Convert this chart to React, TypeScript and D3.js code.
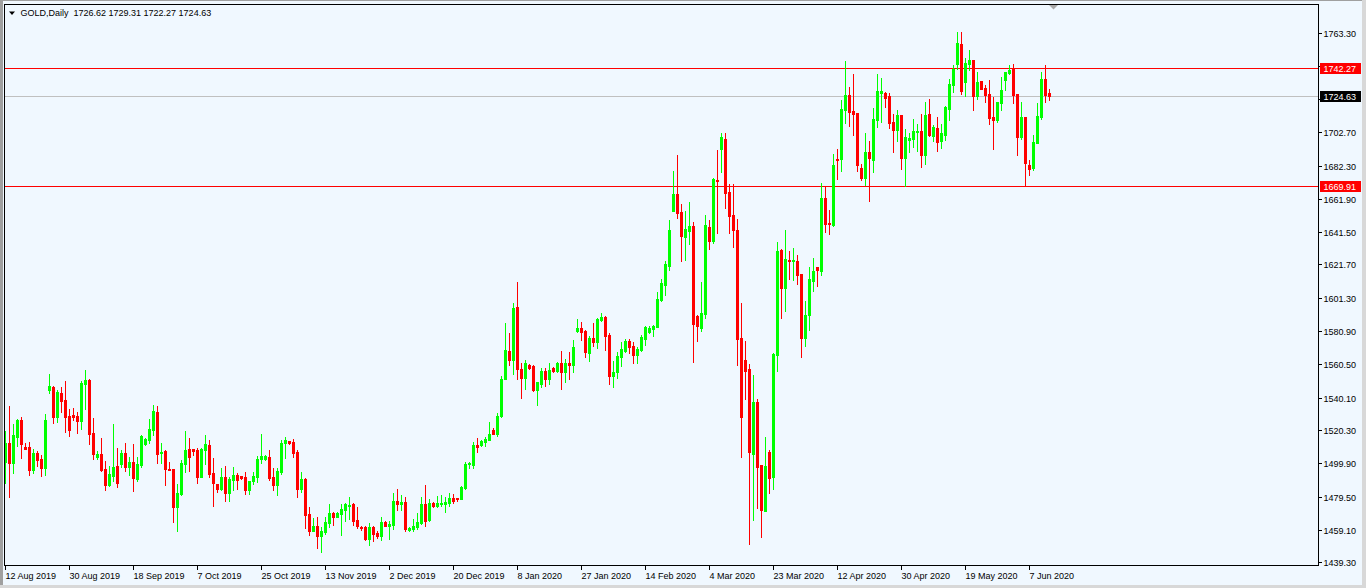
import React from "react";
import * as d3 from "d3";

const opens: number[] = [1500.9,1512.2,1500.3,1516.2,1526.5,1509.7,1509.7,1495.8,1506.0,1502.4,1497.1,1544.8,1546.5,1528.1,1542.8,1538.7,1528.9,1529.5,1528.9,1525.8,1548.5,1551.0,1518.3,1504.0,1505.6,1496.2,1486.6,1492.2,1498.3,1499.5,1506.0,1497.9,1500.7,1490.5,1498.7,1511.8,1514.2,1520.3,1531.4,1506.2,1507.7,1496.4,1496.2,1473.2,1481.1,1499.5,1508.5,1508.5,1508.1,1491.7,1508.1,1511.1,1493.8,1487.0,1484.0,1491.5,1481.9,1489.7,1492.8,1491.9,1491.5,1483.6,1488.9,1491.7,1502.4,1502.4,1503.6,1491.5,1486.8,1494.8,1512.2,1513.4,1513.0,1506.9,1484.4,1490.3,1468.9,1458.7,1461.5,1455.4,1457.9,1463.4,1469.5,1467.0,1468.9,1471.3,1473.8,1475.0,1465.2,1460.9,1460.9,1453.6,1460.9,1457.2,1455.4,1464.0,1461.5,1462.1,1476.8,1475.0,1476.2,1459.1,1459.7,1460.9,1463.4,1475.0,1465.2,1475.6,1473.8,1475.0,1475.0,1475.6,1478.7,1478.7,1478.1,1484.8,1499.5,1498.9,1511.1,1511.1,1513.0,1514.2,1520.3,1517.9,1528.9,1551.6,1568.7,1563.2,1595.7,1557.7,1552.2,1560.1,1559.5,1544.8,1548.5,1556.5,1551.6,1558.3,1556.5,1561.4,1555.9,1561.4,1560.1,1581.0,1582.8,1581.0,1567.5,1576.7,1574.2,1587.7,1589.5,1578.5,1553.4,1555.9,1565.0,1568.7,1574.8,1571.8,1566.3,1569.3,1576.1,1580.4,1582.2,1583.4,1600.0,1609.1,1620.8,1654.5,1664.9,1653.9,1638.5,1642.2,1645.3,1590.2,1582.8,1591.4,1644.7,1636.1,1673.5,1692.4,1698.6,1666.1,1652.0,1642.8,1576.7,1563.2,1557.7,1505.6,1537.5,1498.9,1470.7,1506.9,1491.5,1566.3,1630.6,1607.3,1624.5,1623.8,1623.8,1615.9,1576.7,1590.8,1611.6,1620.2,1617.7,1662.4,1647.1,1645.9,1686.3,1686.3,1716.3,1725.5,1715.7,1714.5,1680.8,1674.7,1690.6,1685.7,1710.2,1726.7,1726.7,1724.9,1709.0,1704.1,1713.3,1686.9,1698.0,1698.6,1702.9,1703.5,1688.8,1713.9,1700.4,1705.3,1697.3,1701.0,1716.9,1731.6,1744.5,1756.8,1733.5,1744.5,1747.0,1724.9,1734.1,1729.8,1726.1,1712.0,1710.2,1720.6,1734.7,1739.0,1741.4,1726.1,1699.8,1712.0,1682.6,1680.8,1696.1,1712.0,1735.3,1726.62];
const highs: number[] = [1519.9,1535.0,1524.0,1527.3,1528.1,1512.6,1513.0,1508.5,1507.7,1505.0,1530.1,1554.6,1547.3,1544.8,1546.5,1550.3,1533.2,1533.6,1531.6,1550.1,1557.1,1551.4,1527.7,1507.7,1515.4,1501.3,1498.3,1524.0,1509.3,1508.1,1512.2,1504.0,1511.8,1504.0,1517.3,1515.2,1526.9,1535.6,1535.0,1512.2,1507.9,1500.7,1496.4,1487.3,1502.0,1519.7,1515.2,1508.9,1509.1,1509.1,1517.3,1514.2,1503.2,1487.2,1497.1,1498.3,1491.7,1497.7,1493.8,1492.4,1494.6,1489.3,1494.6,1504.4,1517.9,1505.0,1508.1,1497.3,1497.1,1514.2,1515.8,1513.8,1514.8,1508.1,1494.6,1490.7,1473.2,1466.4,1467.2,1461.1,1467.0,1475.0,1470.1,1470.1,1475.0,1475.6,1479.3,1475.6,1473.2,1461.5,1461.5,1463.4,1461.5,1458.5,1467.0,1464.6,1464.6,1481.7,1484.2,1480.5,1479.3,1460.9,1465.8,1469.5,1479.3,1486.6,1478.1,1476.2,1479.9,1480.5,1479.3,1481.7,1481.1,1478.9,1486.0,1500.7,1500.7,1513.0,1515.4,1514.2,1516.0,1525.2,1521.6,1530.7,1553.4,1585.9,1579.7,1598.1,1611.0,1561.4,1563.2,1560.8,1560.1,1549.9,1558.3,1558.3,1561.4,1558.9,1562.0,1568.7,1563.8,1568.1,1575.5,1588.3,1586.5,1581.6,1577.9,1585.9,1588.9,1592.0,1590.2,1579.7,1562.6,1568.1,1574.2,1576.1,1576.1,1574.2,1571.2,1578.5,1584.0,1584.0,1584.6,1604.9,1612.8,1623.8,1649.0,1679.0,1688.8,1658.8,1654.5,1660.0,1647.7,1590.8,1611.0,1652.0,1649.0,1674.7,1691.8,1702.2,1702.2,1671.0,1671.0,1649.6,1598.1,1574.8,1560.8,1554.0,1539.3,1499.1,1516.0,1508.1,1567.5,1635.5,1631.0,1642.8,1630.0,1631.8,1627.5,1616.1,1599.3,1620.2,1625.7,1620.4,1671.6,1669.2,1655.1,1689.4,1692.4,1722.5,1746.3,1730.4,1738.4,1714.7,1683.2,1702.2,1697.3,1717.6,1738.4,1735.9,1727.4,1726.7,1713.9,1716.3,1713.5,1704.7,1702.2,1710.8,1707.8,1713.9,1721.2,1723.1,1707.1,1712.0,1707.8,1718.8,1735.3,1743.9,1764.1,1764.1,1748.2,1753.1,1747.2,1739.6,1734.3,1731.6,1734.7,1724.3,1721.4,1736.5,1739.8,1743.9,1744.5,1726.3,1721.2,1712.2,1685.7,1701.0,1720.6,1739.6,1743.9,1729.31];
const lows: number[] = [1487.7,1479.5,1494.2,1510.5,1503.4,1508.5,1493.0,1494.2,1498.3,1492.4,1493.0,1543.2,1524.8,1525.2,1531.4,1519.3,1516.7,1526.5,1518.7,1520.9,1533.4,1511.8,1502.4,1502.4,1495.4,1483.6,1486.0,1489.3,1485.6,1497.9,1495.4,1492.8,1483.2,1489.3,1497.9,1511.1,1512.2,1517.3,1499.9,1500.3,1486.6,1495.6,1464.0,1458.7,1480.8,1494.8,1495.4,1505.0,1487.7,1491.3,1499.5,1491.3,1474.0,1482.6,1483.6,1477.0,1477.0,1483.6,1484.0,1490.3,1481.1,1480.9,1487.3,1488.7,1500.3,1502.2,1489.7,1483.6,1480.5,1493.6,1503.2,1511.8,1504.0,1479.5,1482.6,1460.5,1456.2,1458.3,1448.3,1445.8,1456.6,1461.1,1462.1,1466.8,1456.0,1464.6,1465.8,1462.1,1460.5,1459.1,1453.0,1449.9,1452.5,1454.2,1453.0,1461.3,1453.6,1459.7,1471.3,1471.3,1458.5,1458.5,1458.5,1459.7,1462.8,1461.5,1464.6,1473.2,1473.2,1473.8,1470.1,1473.8,1475.6,1476.8,1477.9,1484.2,1497.1,1497.1,1506.9,1510.5,1510.5,1514.0,1517.7,1516.6,1528.3,1551.4,1560.1,1554.6,1551.6,1539.9,1545.4,1557.7,1544.2,1535.6,1546.7,1547.3,1548.5,1555.9,1555.9,1545.4,1549.7,1551.6,1555.9,1580.4,1575.5,1565.0,1562.6,1571.8,1570.6,1587.1,1569.3,1548.5,1546.7,1552.2,1559.5,1568.1,1567.5,1561.4,1561.4,1568.7,1572.4,1579.7,1577.9,1583.2,1599.3,1603.0,1618.3,1654.3,1650.2,1623.8,1624.5,1634.3,1562.0,1574.8,1581.0,1588.9,1631.2,1634.9,1641.0,1678.3,1656.3,1641.0,1632.4,1560.1,1503.8,1539.3,1450.5,1465.2,1472.6,1454.8,1470.5,1481.7,1484.2,1556.5,1588.9,1593.2,1612.8,1612.2,1609.8,1565.0,1571.8,1581.6,1605.5,1608.5,1615.3,1641.6,1640.4,1645.3,1674.1,1679.0,1708.4,1706.5,1701.0,1679.0,1673.4,1670.4,1660.6,1678.4,1705.9,1709.0,1718.2,1705.3,1690.6,1697.3,1680.2,1669.8,1690.6,1693.7,1691.2,1681.4,1683.3,1700.4,1697.3,1691.2,1693.0,1698.0,1710.2,1727.4,1741.4,1726.1,1724.9,1740.8,1716.3,1723.1,1729.0,1721.2,1707.8,1692.4,1709.0,1716.3,1728.6,1738.4,1720.6,1688.8,1698.6,1669.8,1676.5,1679.6,1695.9,1710.8,1721.2,1722.27];
const closes: number[] = [1512.2,1500.3,1517.3,1526.5,1511.8,1508.9,1495.8,1506.0,1502.0,1497.1,1526.5,1547.3,1528.5,1543.6,1538.3,1528.5,1520.3,1528.1,1525.8,1548.9,1551.0,1517.9,1505.6,1505.6,1495.8,1486.6,1493.4,1497.9,1488.1,1506.0,1497.9,1500.7,1490.9,1499.5,1516.7,1514.8,1520.9,1532.0,1505.6,1506.9,1496.6,1495.8,1473.2,1481.5,1499.9,1508.1,1504.0,1507.5,1491.7,1508.5,1511.8,1493.6,1488.1,1484.4,1491.5,1481.9,1490.3,1492.8,1489.7,1490.7,1483.6,1489.1,1492.2,1502.6,1504.4,1504.4,1490.9,1486.8,1495.0,1512.2,1514.2,1512.4,1506.4,1484.4,1490.3,1468.5,1458.7,1461.5,1455.4,1458.5,1464.0,1469.5,1467.0,1469.5,1471.9,1475.0,1474.4,1464.6,1461.5,1460.3,1453.6,1460.9,1456.6,1455.4,1464.0,1461.5,1462.8,1476.8,1475.0,1476.2,1459.7,1460.3,1461.5,1464.0,1475.0,1464.6,1475.6,1473.8,1475.6,1475.6,1476.2,1478.7,1476.8,1478.1,1485.4,1499.5,1500.1,1511.1,1509.9,1513.6,1514.8,1517.9,1517.9,1528.9,1551.6,1569.3,1563.2,1595.1,1557.7,1552.2,1561.4,1558.3,1544.8,1549.7,1556.5,1551.6,1557.1,1556.5,1561.4,1555.9,1561.4,1560.1,1571.2,1582.8,1580.4,1568.1,1576.7,1574.2,1588.3,1589.5,1577.9,1553.4,1555.9,1565.7,1569.9,1574.8,1571.2,1566.3,1569.9,1577.3,1583.4,1582.8,1584.0,1600.6,1610.4,1622.0,1642.8,1664.9,1653.2,1639.2,1643.4,1645.3,1585.3,1584.0,1592.0,1645.9,1636.1,1674.1,1672.8,1699.8,1665.5,1651.4,1642.8,1576.1,1528.3,1556.5,1506.9,1537.5,1497.7,1471.3,1498.3,1490.9,1566.9,1630.0,1607.3,1625.1,1623.8,1624.5,1615.3,1576.7,1590.8,1612.8,1617.7,1618.3,1662.4,1646.5,1646.5,1682.6,1685.7,1716.9,1725.5,1715.1,1713.9,1682.6,1674.7,1690.6,1686.9,1710.8,1728.0,1728.0,1723.7,1708.4,1704.1,1713.3,1686.9,1699.8,1699.2,1703.5,1703.5,1688.8,1713.3,1701.0,1705.9,1696.7,1702.2,1718.2,1732.3,1741.4,1757.4,1728.0,1745.1,1747.0,1724.9,1733.5,1729.2,1725.5,1711.4,1710.2,1721.2,1728.6,1739.6,1740.8,1725.5,1699.8,1712.0,1683.9,1680.2,1696.7,1712.7,1735.3,1725.5,1724.63];

const dateTickIndex: number[] = [0,16,32,48,64,80,96,112,128,144,160,176,192,208,224,240,256];
const dateTickLabels: string[] = ["12 Aug 2019","30 Aug 2019","18 Sep 2019","7 Oct 2019","25 Oct 2019","13 Nov 2019","2 Dec 2019","20 Dec 2019","8 Jan 2020","27 Jan 2020","14 Feb 2020","4 Mar 2020","23 Mar 2020","12 Apr 2020","30 Apr 2020","19 May 2020","7 Jun 2020"];
const priceTicks: number[] = [1763.30,1743.10,1723.10,1702.70,1682.30,1661.90,1641.50,1621.70,1601.30,1580.90,1560.50,1540.10,1520.30,1499.90,1479.50,1459.10,1439.30];
// labels hidden behind the price boxes in the reference
const hiddenTickLabels: number[] = [1743.10,1723.10];
const redLevels: number[] = [1742.27,1669.91];
const bidPrice = 1724.63;
const headerText = "GOLD,Daily  1726.62 1729.31 1722.27 1724.63";

const W = 1366, H = 588;
const L = 4, T = 4, R = 1318, B = 565;
const BULL = "#00FF00", BEAR = "#FF0000";
const FONT = "'Liberation Sans', Arial, sans-serif";

export default function App() {
  const x = d3.scaleLinear().domain([0, opens.length - 1]).range([5, 1049]);
  const y = d3.scaleLinear().domain([1439.3, 1763.3]).range([562.3, 33.3]);
  const ry = (v: number) => Math.round(y(v));

  const candles = opens.map((o, i) => {
    const c = closes[i];
    const hi = Math.max(highs[i], o, c);
    const lo = Math.min(lows[i], o, c);
    const cx = Math.round(x(i));
    const bull = c >= o;
    const col = bull ? BULL : BEAR;
    const bt = ry(Math.max(o, c));
    const bb = ry(Math.min(o, c));
    const wt = ry(hi);
    const wb = ry(lo);
    return (
      <g key={i}>
        <rect x={cx} y={wt} width={1} height={Math.max(1, wb - wt + 1)} fill={col} />
        <rect x={cx - 1} y={bt} width={3} height={Math.max(1, bb - bt + 1)} fill={col} />
      </g>
    );
  });

  return (
    <svg width={W} height={H} viewBox={`0 0 ${W} ${H}`}
      style={{ position: "absolute", left: 0, top: 0, display: "block" }}
      shapeRendering="crispEdges" fontFamily={FONT}>
      <rect x={0} y={0} width={W} height={H} fill="#F0F8FF" />
      <rect x={0} y={0} width={3} height={H} fill="#A0A0A0" />
      <rect x={0} y={0} width={W} height={1} fill="#A0A0A0" />
      <rect x={W - 4} y={0} width={4} height={H} fill="#D8D8D8" />
      <rect x={0} y={H - 3} width={W} height={3} fill="#D8D8D8" />

      <defs>
        <clipPath id="plot">
          <rect x={L + 1} y={T + 1} width={R - L - 1} height={B - T - 1} />
        </clipPath>
      </defs>

      <g clipPath="url(#plot)">
        {redLevels.map((v, i) => (
          <rect key={"rl" + i} x={L} y={ry(v)} width={R - L} height={1} fill="#FF0000" />
        ))}
        <rect x={L} y={ry(bidPrice)} width={R - L} height={1} fill="#C0C0C0" />
        {candles}
      </g>

      <rect x={L + 0.5} y={T + 0.5} width={R - L} height={B - T} fill="none" stroke="#000" strokeWidth={1} />

      <path d="M1049,5 L1058,5 L1053.5,9.5 Z" fill="#A8A8A8" shapeRendering="auto" />

      <path d="M9,11.5 L15,11.5 L12,15 Z" fill="#000" shapeRendering="auto" />
      <text x={20.5} y={16} fontSize={9} fill="#000" style={{ whiteSpace: "pre" }}>{headerText}</text>

      {priceTicks.map((v, i) => {
        const yy = ry(v);
        const hidden = hiddenTickLabels.includes(v);
        return (
          <g key={"pt" + i}>
            <rect x={R} y={yy} width={4} height={1} fill="#000" />
            {!hidden && <text x={1323.5} y={yy + 3.6} fontSize={9} fill="#000">{v.toFixed(2)}</text>}
          </g>
        );
      })}
      {redLevels.map((v, i) => {
        const yy = ry(v);
        return (
          <g key={"rb" + i}>
            <rect x={1320} y={yy - 5} width={41} height={11} fill="#FF0000" />
            <text x={1323.5} y={yy + 3.6} fontSize={9} fill="#FFF">{v.toFixed(2)}</text>
          </g>
        );
      })}
      <g>
        <rect x={1320} y={ry(bidPrice) - 5} width={41} height={11} fill="#000" />
        <text x={1323.5} y={ry(bidPrice) + 3.6} fontSize={9} fill="#FFF">{bidPrice.toFixed(2)}</text>
      </g>

      {dateTickIndex.map((idx, i) => {
        const xx = Math.round(x(idx));
        return (
          <g key={"dt" + i}>
            <rect x={xx} y={B} width={1} height={5} fill="#000" />
            <text x={xx + 0.5} y={578.5} fontSize={9} fill="#000">{dateTickLabels[i]}</text>
          </g>
        );
      })}
    </svg>
  );
}
